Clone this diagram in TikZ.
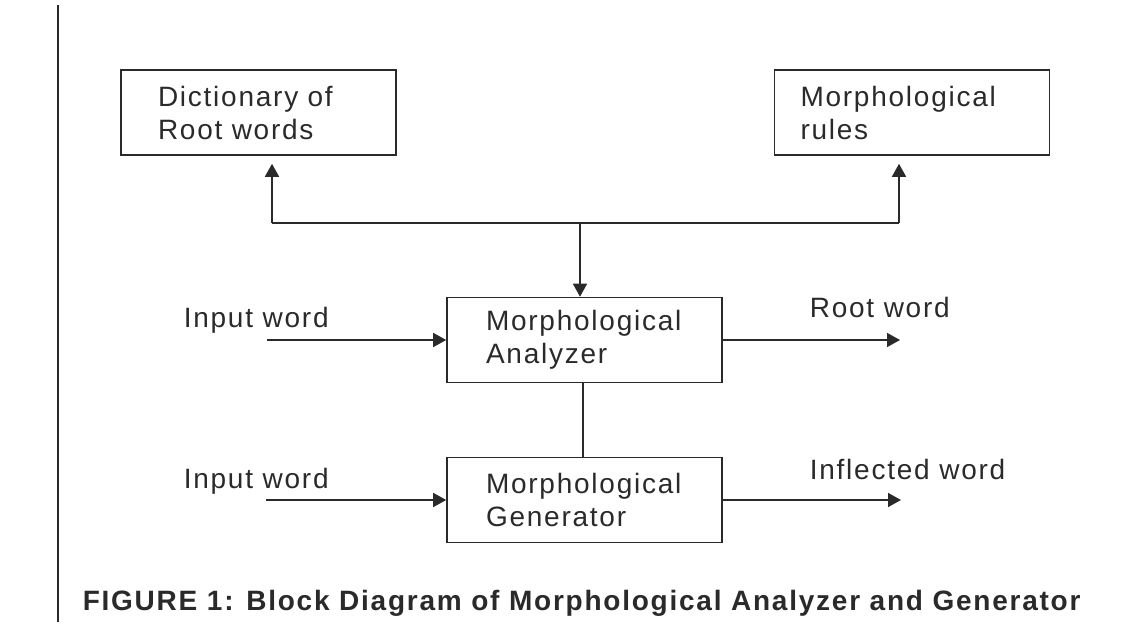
\documentclass[tikz,border=0pt]{standalone}
\usepackage{fontspec}
\setmainfont{Liberation Sans}[LetterSpace=6.3]
\usetikzlibrary{arrows.meta}
\definecolor{ink}{HTML}{2A2A2A}
\begin{document}
\begin{tikzpicture}[x=1pt, y=-1pt, color=ink, line width=1.6pt,
    block/.style={draw, minimum width=275pt, minimum height=85pt, inner sep=0pt,
        align=left, text width=#1, font=\fontsize{28}{33}\selectfont},
    lbl/.style={anchor=base west, inner sep=0pt, font=\fontsize{28}{33}\selectfont},
    flow/.style={-{Triangle[length=13pt, width=14pt]}}]
    \useasboundingbox (0,0) rectangle (1143,627);
    % margin rule
    \draw (58,5) -- (58,622);
    % blocks
    \node[block=201pt] (dict) at (258.5,112.5) {Dictionary of\\Root words};
    \node[block=223pt] (rules) at (912,112.5) {Morphological\\rules};
    \node[block=197pt] (ana) at (584.5,340) {Morphological\\Analyzer};
    \node[block=197pt] (gen) at (584.5,500) {Morphological\\Generator};
    % bus to the two stores
    \coordinate (hub) at (580,223);
    \coordinate (busl) at (272,223);
    \coordinate (busr) at (899,223);
    \draw[flow] (hub) -- (hub |- ana.north);
    \draw[flow, shorten >=8pt] (busl) -- (busl |- dict.south);
    \draw[flow, shorten >=8pt] (busr) -- (busr |- rules.south);
    \draw (busl) -- (busr);
    \draw ([xshift=-1.5pt]ana.south) -- ([xshift=-1.5pt]gen.north);
    % inputs and outputs
    \coordinate (inA) at (267,340);
    \coordinate (inG) at (266,500);
    \coordinate (outA) at (900,340);
    \coordinate (outG) at (901,500);
    \draw[flow] (inA) -- (ana.west);
    \draw[flow] (inG) -- (gen.west);
    \draw[flow] (ana.east) -- (outA);
    \draw[flow] (gen.east) -- (outG);
    \node[lbl] (inAtxt) at (183,327) {Input word};
    \node[lbl] (inGtxt) at (183,488) {Input word};
    \node[lbl] (outAtxt) at (809,317) {Root word};
    \node[lbl] (outGtxt) at (809,479) {Inflected word};
    % caption
    \node[lbl, font=\bfseries\fontsize{28}{33}\selectfont] (cap) at (82,610)
        {FIGURE 1: Block Diagram of Morphological Analyzer and Generator};
\end{tikzpicture}
\end{document}
